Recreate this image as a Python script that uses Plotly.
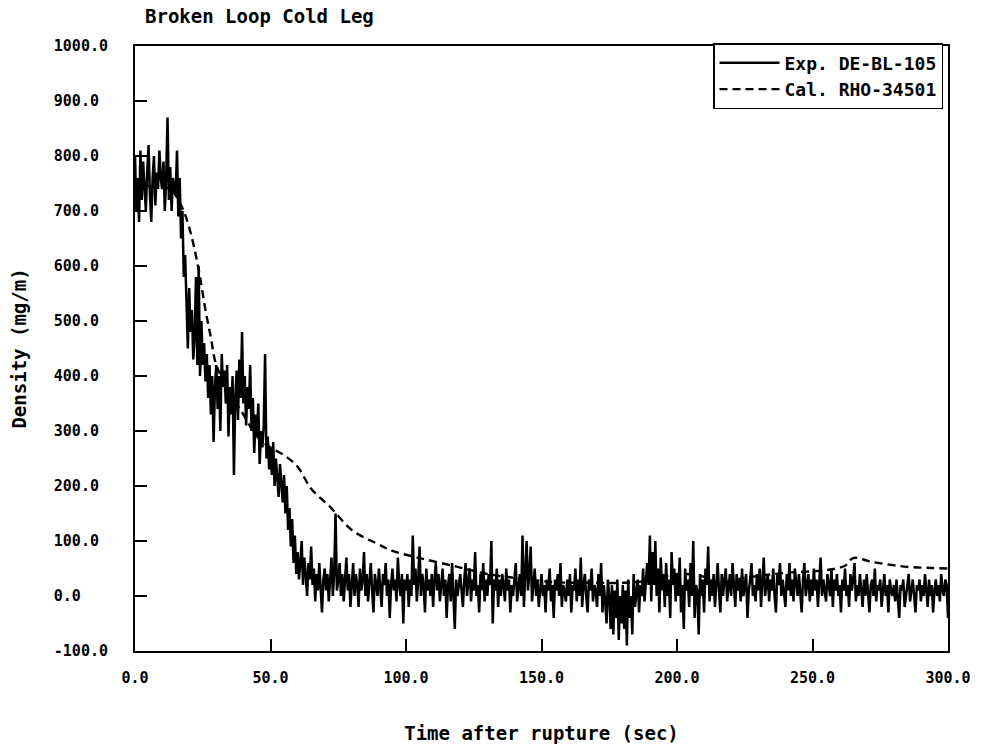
import plotly.graph_objects as go

# ---- data ----
# Experimental density, sampled every 0.5 s from t = 0 to 300 s
exp_density = [
    800, 700, 760, 680, 810, 720, 790, 740, 700, 770, 820, 730, 680, 760, 800, 710, 770, 740, 810, 760,
    740, 790, 700, 760, 870, 720, 780, 700, 760, 740, 730, 810, 690, 760, 650, 700, 580, 620, 520, 450,
    560, 480, 520, 430, 470, 580, 420, 600, 400, 500, 420, 460, 390, 440, 360, 420, 330, 400, 280, 380,
    420, 340, 400, 300, 440, 380, 410, 350, 420, 290, 380, 330, 400, 220, 360, 410, 320, 430, 360, 480,
    350, 400, 310, 380, 340, 420, 300, 360, 260, 330, 290, 350, 240, 300, 270, 310, 440, 250, 290, 230,
    270, 220, 280, 200, 250, 210, 180, 240, 200, 170, 220, 150, 200, 120, 160, 90, 140, 60, 110, 40,
    80, 30, 60, 100, 20, 70, 40, 0, 60, 30, 90, 20, 50, -10, 40, 10, 60, 20, -30, 30,
    50, 10, 40, -10, 30, 70, 0, 40, 150, 10, 30, 60, 0, 40, -10, 30, 70, 10, 40, -20,
    30, 60, 0, 40, 20, -20, 50, 10, 30, 80, 0, 40, -10, 30, 60, 10, -30, 40, 20, 0,
    50, 10, -20, 40, 20, 60, 0, 30, -40, 20, 50, 10, 30, -10, 70, 20, 0, 40, -50, 30,
    10, 40, -20, 30, 0, 110, 20, 50, -10, 30, 90, 0, 40, 20, -30, 50, 10, 30, 0, 40,
    -20, 30, 60, 10, 40, -10, 20, 50, 0, 30, -40, 20, 40, -10, 60, 10, -60, 30, 0, 20,
    40, 10, -20, 30, 60, 0, 20, 50, -10, 30, 10, 80, 0, 20, -30, 40, 10, 60, -10, 30,
    0, 40, 20, 100, -50, 30, 10, 50, -20, 30, 0, 40, 20, -10, 50, 10, 30, -30, 20, 0,
    30, 60, -10, 20, 40, 0, 110, -20, 30, 100, 10, 40, 90, -10, 20, 50, 0, 30, -20, 20,
    40, 0, 20, -30, 30, 10, 50, -10, 20, -40, 30, 10, 40, 0, 60, -20, 20, 10, -10, 30,
    0, 40, -30, 20, 10, 50, -10, 30, 0, 70, -20, 20, 40, 0, -30, 30, 10, 50, -10, 20,
    10, -20, 40, 0, 60, -30, 20, -10, -50, 30, 0, -60, 20, -70, 10, -40, 30, -80, 0, -50,
    20, -60, 10, -90, 30, -40, 0, -70, 40, -20, 10, 30, -30, 20, 0, 50, -10, 30, 60, 20,
    110, -10, 80, 20, 100, 0, 50, -30, 70, 10, 40, -20, 60, 0, 30, -40, 80, 20, 50, -10,
    40, 0, 70, -30, 20, -60, 50, 10, 30, -20, 60, 0, 100, -40, 20, 10, -70, 40, 0, 30,
    -30, 50, 20, 90, -10, 30, 0, 40, -20, 20, 60, 10, -30, 40, 0, 30, 50, -10, 20, 40,
    0, 60, 20, -20, 40, 10, 30, -10, 50, 0, 20, 40, -40, 10, 30, 60, 0, 20, -10, 40,
    10, 50, -20, 30, 70, 0, 20, 40, -10, 30, 10, 50, 0, -30, 40, 20, 60, 0, 30, 10,
    -20, 40, 10, 60, 0, 30, -10, 50, 20, 0, 40, 10, -30, 30, 60, 0, 20, 40, -10, 30,
    0, 50, 10, 30, -20, 20, 70, 0, 30, 10, -10, 40, 20, 0, 50, -20, 30, 10, 40, 0,
    20, -30, 30, 10, 50, 0, 20, -20, 40, 10, 30, 60, -10, 20, 0, 40, 10, -20, 30, 0,
    40, 10, -30, 20, 30, 0, 50, -10, 20, 10, 30, -20, 10, 40, 0, 20, -30, 30, 10, 0,
    20, -10, 30, 0, -40, 20, 10, 30, -20, 0, 20, 40, -10, 10, 30, 0, -30, 20, 10, 30,
    -10, 20, 0, 40, 10, -20, 30, 0, 20, -30, 10, 30, 0, 20, -10, 40, 10, 0, 30, 20,
    -40,
]
exp_time = [0.5 * i for i in range(len(exp_density))]

cal_time = [0, 5, 10, 12, 14, 16, 18, 20, 22, 24, 26, 28, 30, 35, 40, 45, 50, 55,
            60, 65, 72, 80, 89, 95, 105, 119, 130, 140, 155, 170, 180, 190, 200,
            210, 215, 225, 240, 255, 262, 265, 272, 285, 294, 300]
cal_density = [745, 745, 745, 742, 735, 720, 700, 670, 630, 580, 520, 470, 420, 370,
               330, 290, 270, 256, 235, 195, 162, 120, 96, 82, 69, 53, 40, 33, 25,
               24, 24, 28, 40, 35, 25, 33, 42, 47, 55, 69, 62, 53, 51, 50]

series_names = ["Exp. DE-BL-105", "Cal. RHO-34501"]

y_tick_vals = [-100, 0, 100, 200, 300, 400, 500, 600, 700, 800, 900, 1000]
y_tick_text = ["-100.0", "0.0", "100.0", "200.0", "300.0", "400.0", "500.0",
               "600.0", "700.0", "800.0", "900.0", "1000.0"]
x_tick_vals = [0, 50, 100, 150, 200, 250, 300]
x_tick_text = ["0.0", "50.0", "100.0", "150.0", "200.0", "250.0", "300.0"]

FONT = "DejaVu Sans Mono"

# y tick labels in the reference are left-aligned: pad (monospace) with no-break spaces
_w = max(len(s) for s in y_tick_text)
y_tick_text_padded = [s + "\u00a0" * (_w - len(s)) for s in y_tick_text]

fig = go.Figure()
fig.add_trace(go.Scatter(
    x=exp_time, y=exp_density, mode="lines", name=series_names[0],
    line=dict(color="black", width=2.5),
))
fig.add_trace(go.Scatter(
    x=cal_time, y=cal_density, mode="lines", name=series_names[1],
    line=dict(color="black", width=2.4, dash="8px,5px", shape="spline"),
))

fig.update_layout(
    width=985, height=753,
    paper_bgcolor="white", plot_bgcolor="white",
    margin=dict(l=135, r=37, t=46, b=102),
    font=dict(family=FONT, color="black", size=15),
    title=dict(text="Broken Loop Cold Leg", x=145 / 985, xanchor="left",
               y=1 - 16 / 753, yanchor="middle",
               font=dict(family=FONT, size=19, color="black", weight="bold")),
    showlegend=True,
    legend=dict(x=1.0 - 5 / 813, xanchor="right", y=1 + 3 / 605, yanchor="top",
                bgcolor="white", bordercolor="black", borderwidth=1.5,
                font=dict(family=FONT, size=18, color="black", weight="bold"),
                itemwidth=60, tracegroupgap=0),
)
fig.update_xaxes(
    range=[0, 300], tickvals=x_tick_vals, ticktext=x_tick_text,
    ticks="inside", ticklen=12, tickwidth=2, tickcolor="black",
    showline=True, linecolor="black", linewidth=2, mirror=True,
    showgrid=False, zeroline=False, automargin=False,
    tickfont=dict(family=FONT, size=15, color="black", weight="bold"),
    ticklabelstandoff=12,
    title=dict(text="Time after rupture (sec)", standoff=41,
               font=dict(family=FONT, size=19, color="black", weight="bold")),
)
fig.update_yaxes(
    range=[-100, 1000], tickvals=y_tick_vals, ticktext=y_tick_text_padded,
    ticks="inside", ticklen=12, tickwidth=2, tickcolor="black",
    showline=True, linecolor="black", linewidth=2, mirror=True,
    showgrid=False, zeroline=False, automargin=False,
    tickfont=dict(family=FONT, size=15, color="black", weight="bold"),
    ticklabelstandoff=22,
    title=dict(text="Density (mg/m)", standoff=22,
               font=dict(family=FONT, size=19, color="black", weight="bold")),
)

fig.write_html("out.html", config={"displayModeBar": False},
               post_script="document.body.style.margin='0px';")
